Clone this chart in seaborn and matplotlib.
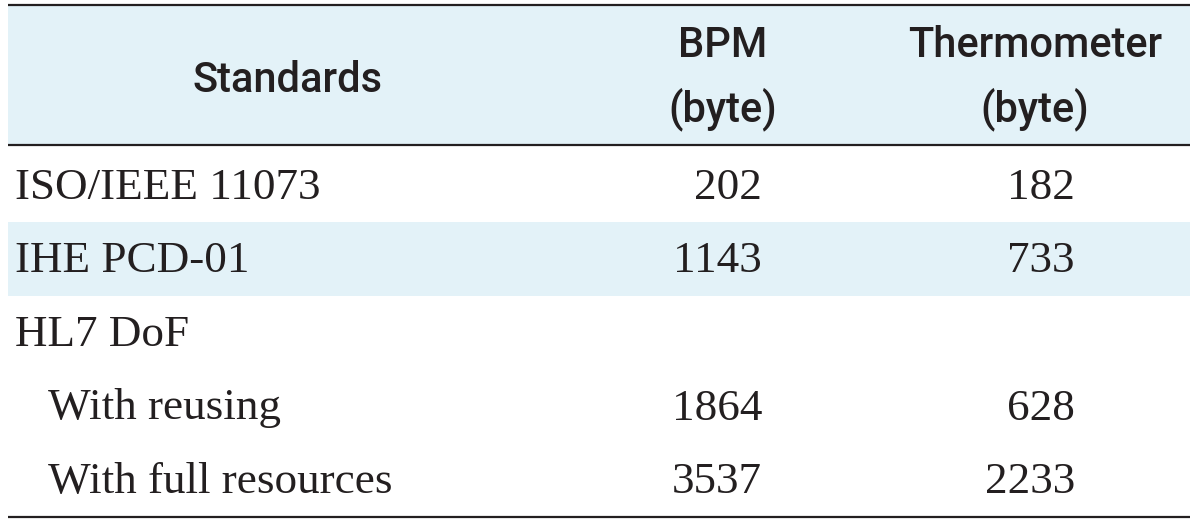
import matplotlib
matplotlib.use("Agg")
import matplotlib.pyplot as plt
import seaborn as sns

# table content
standards = ["ISO/IEEE 11073", "IHE PCD-01", "HL7 DoF", "With reusing", "With full resources"]
indent = [False, False, False, True, True]
bpm = ["202", "1143", "", "1864", "3537"]
thermo = ["182", "733", "", "628", "2233"]
headers = ["Standards", "BPM\n(byte)", "Thermometer\n(byte)"]
shaded = [False, True, False, False, False]

sns.set_theme(style="white")
ink = "#231f20"
band = "#e3f2f8"

fig = plt.figure(figsize=(12, 5.23), dpi=100)
ax = fig.add_axes([0, 0, 1, 1])
ax.set_xlim(0, 1200)
ax.set_ylim(523, 0)
ax.axis("off")

serif = "Liberation Serif"
sans = "Roboto"
fs = 32.5
hfs = 30

# header band and rules
ax.axhspan(6, 145, xmin=8 / 1200, xmax=1190 / 1200, color=band, lw=0)
for y in (5, 145, 517):
    ax.plot([8, 1190], [y, y], color=ink, lw=1.6, solid_capstyle="butt")

# header text
ax.text(287, 92, headers[0], ha="center", va="baseline", fontsize=hfs,
        family=sans, weight="medium", color=ink)
for xc, h in zip((723, 1035), headers[1:]):
    top, bot = h.split("\n")
    ax.text(xc, 57, top, ha="center", va="baseline", fontsize=hfs,
            family=sans, weight="medium", color=ink)
    ax.text(xc, 121, bot, ha="center", va="baseline", fontsize=hfs,
            family=sans, weight="medium", color=ink)

# body rows
row0, step = 185, 73.5
for i, name in enumerate(standards):
    yc = row0 + step * i
    if shaded[i]:
        ax.axhspan(yc - 37, yc + 37, xmin=8 / 1200, xmax=1190 / 1200, color=band, lw=0)
    base = yc + 14
    x0 = 48 if indent[i] else 15
    ax.text(x0, base, name, ha="left", va="baseline", fontsize=fs, family=serif, color=ink)
    ax.text(762, base, bpm[i], ha="right", va="baseline", fontsize=fs, family=serif, color=ink)
    ax.text(1075, base, thermo[i], ha="right", va="baseline", fontsize=fs, family=serif, color=ink)

fig.savefig("out.png", dpi=100, facecolor="white")
